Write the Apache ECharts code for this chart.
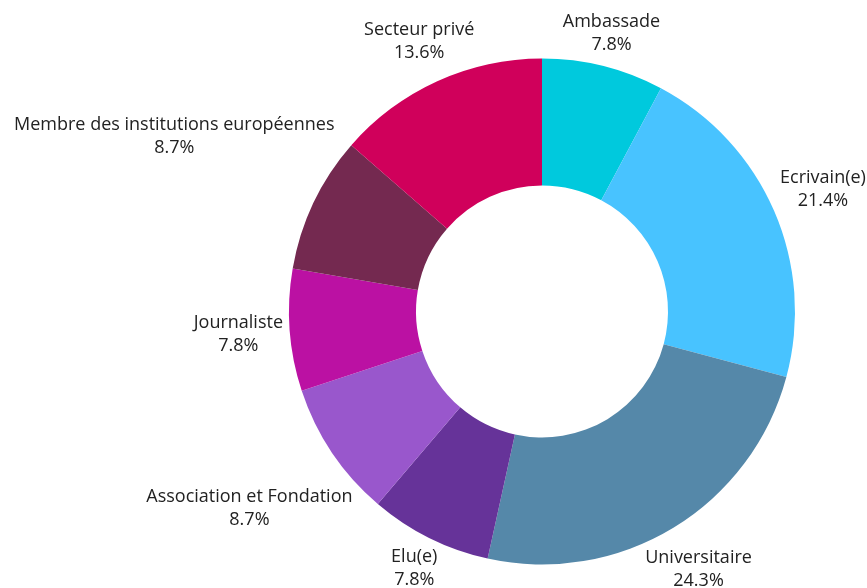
<!DOCTYPE html>
<html>
<head>
<meta charset="utf-8">
<script src="https://cdn.jsdelivr.net/npm/echarts@6/dist/echarts.min.js"></script>
<style>
  html, body { margin: 0; padding: 0; background: #ffffff; }
  #chart { width: 867px; height: 588px; }
</style>
</head>
<body>
<div id="chart"></div>
<script>
const categories = ['Ambassade', 'Ecrivain(e)', 'Universitaire', 'Elu(e)', 'Association et Fondation', 'Journaliste', 'Membre des institutions européennes', 'Secteur privé'];
const percentages = [7.8, 21.4, 24.3, 7.8, 8.7, 7.8, 8.7, 13.6];
const colors = ['#00C9DD', '#48C3FF', '#5588A9', '#663399', '#9957CC', '#BB11A3', '#742950', '#D0005B'];

const chart = echarts.init(document.getElementById('chart'), null, { renderer: 'canvas' });
const LABEL_GAP = 6;
const LABEL_TRIM = 6;

function labelPos(params) {
  const data = chart.getModel().getSeriesByIndex(0).getData();
  const L = data.getItemLayout(params.dataIndex);
  const mid = (L.startAngle + L.endAngle) / 2;
  const ux = Math.cos(mid), uy = Math.sin(mid);
  const w = params.labelRect.width, h = params.labelRect.height - LABEL_TRIM;
  const target = L.r + LABEL_GAP;
  const near = function (d) {
    const nx = Math.max(0, Math.abs(d * ux) - w / 2);
    const ny = Math.max(0, Math.abs(d * uy) - h / 2);
    return Math.hypot(nx, ny);
  };
  let lo = 0, hi = 3000;
  for (let i = 0; i < 60; i++) {
    const m = (lo + hi) / 2;
    if (near(m) < target) lo = m; else hi = m;
  }
  const d = (lo + hi) / 2;
  return { x: L.cx + d * ux, y: L.cy + d * uy, align: 'center', verticalAlign: 'middle' };
}

chart.setOption({
  animation: false,
  backgroundColor: '#ffffff',
  series: [{
    type: 'pie',
    center: [542, 311.5],
    radius: [126, 253],
    startAngle: 90,
    clockwise: true,
    avoidLabelOverlap: false,
    data: categories.map(function (c, i) {
      return { name: c, value: percentages[i], itemStyle: { color: colors[i] } };
    }),
    itemStyle: { borderWidth: 0 },
    label: {
      show: true,
      position: 'outside',
      formatter: '{b}\n{c}%',
      fontFamily: 'Open Sans',
      fontSize: 18,
      lineHeight: 23,
      color: '#222222'
    },
    labelLine: { show: false },
    labelLayout: labelPos,
    emphasis: { disabled: true }
  }]
});
</script>
</body>
</html>
